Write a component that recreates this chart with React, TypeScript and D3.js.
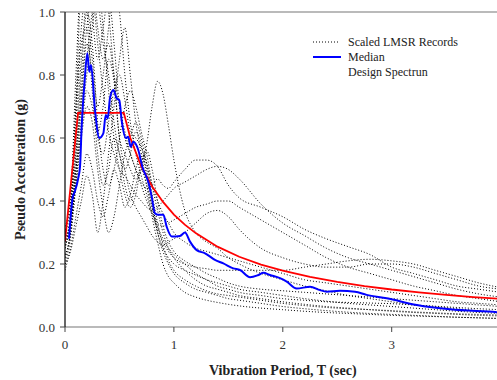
import * as d3 from 'd3';

// periods (sec) shared by the scaled records
const recordT = [0, 0.05, 0.1, 0.15, 0.2, 0.25, 0.3, 0.35, 0.4, 0.45, 0.5, 0.55, 0.6, 0.65, 0.7, 0.75, 0.8, 0.85, 0.9, 0.95, 1.0, 1.1, 1.2, 1.3, 1.4, 1.5, 1.6, 1.8, 2.0, 2.2, 2.4, 2.6, 2.8, 3.0, 3.2, 3.4, 3.6, 3.8, 4.0];

const rec1 = [0.25, 0.35, 0.55, 0.72, 0.9, 0.8, 0.62, 0.7, 0.85, 0.78, 0.6, 0.55, 0.5, 0.47, 0.5, 0.58, 0.7, 0.78, 0.74, 0.64, 0.53, 0.37, 0.3, 0.27, 0.25, 0.22, 0.2, 0.17, 0.15, 0.13, 0.115, 0.1, 0.09, 0.08, 0.07, 0.065, 0.058, 0.052, 0.048];
const rec2 = [0.3, 0.38, 0.6, 0.85, 1.05, 1.1, 0.95, 0.85, 0.9, 0.8, 0.7, 0.62, 0.55, 0.5, 0.46, 0.44, 0.45, 0.47, 0.45, 0.44, 0.46, 0.5, 0.53, 0.53, 0.51, 0.45, 0.41, 0.38, 0.35, 0.31, 0.28, 0.255, 0.23, 0.19, 0.17, 0.15, 0.13, 0.12, 0.11];
const rec3 = [0.22, 0.3, 0.5, 0.75, 0.95, 1.05, 0.9, 0.75, 0.62, 0.55, 0.5, 0.48, 0.45, 0.42, 0.4, 0.38, 0.37, 0.38, 0.4, 0.42, 0.44, 0.46, 0.48, 0.5, 0.51, 0.5, 0.47, 0.39, 0.33, 0.29, 0.25, 0.22, 0.2, 0.18, 0.16, 0.14, 0.12, 0.105, 0.095];
const rec4 = [0.28, 0.35, 0.7, 1.1, 1.2, 1.0, 0.85, 0.95, 1.05, 0.9, 0.7, 0.6, 0.55, 0.5, 0.45, 0.4, 0.36, 0.33, 0.32, 0.33, 0.34, 0.36, 0.38, 0.39, 0.4, 0.4, 0.38, 0.34, 0.3, 0.26, 0.22, 0.19, 0.17, 0.15, 0.13, 0.115, 0.1, 0.09, 0.08];
const rec5 = [0.2, 0.28, 0.45, 0.65, 0.8, 0.95, 1.1, 1.15, 1.0, 0.8, 0.6, 0.5, 0.42, 0.38, 0.35, 0.32, 0.29, 0.27, 0.26, 0.27, 0.28, 0.3, 0.33, 0.36, 0.37, 0.35, 0.31, 0.25, 0.22, 0.2, 0.19, 0.19, 0.2, 0.2, 0.19, 0.17, 0.15, 0.13, 0.12];
const rec6 = [0.32, 0.4, 0.8, 1.1, 1.0, 0.85, 0.7, 0.8, 0.95, 1.1, 1.0, 0.8, 0.65, 0.55, 0.48, 0.42, 0.36, 0.31, 0.27, 0.24, 0.22, 0.2, 0.19, 0.185, 0.18, 0.18, 0.18, 0.18, 0.18, 0.19, 0.2, 0.21, 0.215, 0.21, 0.2, 0.18, 0.16, 0.14, 0.125];
const rec7 = [0.26, 0.32, 0.5, 0.62, 0.75, 0.7, 0.6, 0.55, 0.65, 0.75, 0.8, 0.72, 0.62, 0.6, 0.57, 0.52, 0.45, 0.4, 0.36, 0.33, 0.3, 0.27, 0.25, 0.24, 0.23, 0.22, 0.21, 0.19, 0.17, 0.15, 0.14, 0.13, 0.12, 0.11, 0.1, 0.09, 0.08, 0.075, 0.07];
const rec8 = [0.18, 0.25, 0.35, 0.45, 0.55, 0.5, 0.4, 0.35, 0.42, 0.5, 0.45, 0.38, 0.42, 0.5, 0.55, 0.5, 0.4, 0.3, 0.24, 0.2, 0.17, 0.14, 0.12, 0.11, 0.1, 0.09, 0.085, 0.075, 0.065, 0.058, 0.052, 0.047, 0.043, 0.04, 0.037, 0.034, 0.031, 0.029, 0.027];
const rec9 = [0.23, 0.3, 0.55, 0.8, 1.0, 0.9, 0.65, 0.5, 0.45, 0.5, 0.6, 0.7, 0.75, 0.7, 0.62, 0.55, 0.45, 0.37, 0.3, 0.25, 0.22, 0.18, 0.15, 0.13, 0.12, 0.11, 0.1, 0.09, 0.08, 0.072, 0.065, 0.06, 0.055, 0.05, 0.046, 0.043, 0.04, 0.037, 0.035];
const rec10 = [0.27, 0.33, 0.45, 0.6, 0.7, 0.65, 0.5, 0.38, 0.3, 0.35, 0.45, 0.55, 0.6, 0.65, 0.6, 0.52, 0.42, 0.33, 0.26, 0.21, 0.18, 0.15, 0.13, 0.115, 0.105, 0.1, 0.095, 0.085, 0.075, 0.068, 0.062, 0.058, 0.055, 0.052, 0.048, 0.045, 0.042, 0.04, 0.038];
const rec11 = [0.3, 0.42, 0.7, 0.95, 1.1, 1.15, 1.05, 0.9, 0.8, 0.65, 0.55, 0.5, 0.55, 0.62, 0.58, 0.48, 0.38, 0.3, 0.25, 0.22, 0.2, 0.18, 0.165, 0.15, 0.14, 0.13, 0.12, 0.11, 0.1, 0.09, 0.082, 0.075, 0.07, 0.065, 0.06, 0.055, 0.05, 0.046, 0.043];
const rec12 = [0.2, 0.24, 0.32, 0.4, 0.48, 0.42, 0.3, 0.4, 0.55, 0.7, 0.85, 0.95, 0.8, 0.65, 0.55, 0.45, 0.35, 0.27, 0.2, 0.16, 0.14, 0.11, 0.095, 0.085, 0.078, 0.072, 0.067, 0.06, 0.055, 0.05, 0.046, 0.043, 0.04, 0.037, 0.035, 0.033, 0.031, 0.029, 0.027];
const rec13 = [0.25, 0.36, 0.65, 0.9, 0.95, 0.75, 0.55, 0.45, 0.5, 0.6, 0.55, 0.45, 0.4, 0.45, 0.52, 0.56, 0.5, 0.4, 0.32, 0.27, 0.24, 0.21, 0.19, 0.17, 0.155, 0.14, 0.13, 0.12, 0.115, 0.11, 0.105, 0.1, 0.095, 0.09, 0.085, 0.08, 0.075, 0.07, 0.065];
const rec14 = [0.22, 0.3, 0.48, 0.7, 0.85, 1.0, 1.1, 0.95, 0.75, 0.6, 0.5, 0.42, 0.38, 0.42, 0.5, 0.45, 0.38, 0.32, 0.28, 0.25, 0.23, 0.2, 0.17, 0.15, 0.13, 0.12, 0.11, 0.1, 0.09, 0.085, 0.08, 0.078, 0.076, 0.074, 0.07, 0.066, 0.062, 0.058, 0.055];

const records = [rec1, rec2, rec3, rec4, rec5, rec6, rec7, rec8, rec9, rec10, rec11, rec12, rec13, rec14];

const medianT = [0.037, 0.07, 0.09, 0.12, 0.138, 0.153, 0.18, 0.205, 0.223, 0.239, 0.275, 0.315, 0.352, 0.374, 0.392, 0.413, 0.444, 0.475, 0.499, 0.52, 0.56, 0.58, 0.603, 0.627, 0.673, 0.71, 0.765, 0.796, 0.826, 0.857, 0.903, 0.934, 0.98, 1.056, 1.102, 1.148, 1.209, 1.286, 1.377, 1.454, 1.545, 1.607, 1.699, 1.775, 1.821, 1.882, 1.974, 2.036, 2.127, 2.25, 2.342, 2.403, 2.525, 2.663, 2.77, 2.954, 3.23, 3.535, 3.964, 4.0];
const medianSa = [0.28, 0.41, 0.43, 0.47, 0.51, 0.636, 0.78, 0.869, 0.81, 0.832, 0.69, 0.6, 0.615, 0.673, 0.662, 0.726, 0.752, 0.726, 0.72, 0.657, 0.6, 0.604, 0.572, 0.588, 0.562, 0.509, 0.46, 0.414, 0.361, 0.356, 0.356, 0.318, 0.287, 0.289, 0.3, 0.271, 0.244, 0.234, 0.213, 0.202, 0.186, 0.181, 0.158, 0.165, 0.172, 0.165, 0.155, 0.144, 0.122, 0.128, 0.117, 0.112, 0.115, 0.112, 0.102, 0.091, 0.07, 0.056, 0.047, 0.046];

const designT = [0, 0.12, 0.54, 0.6, 0.7, 0.8, 0.9, 1.0, 1.1, 1.2, 1.4, 1.6, 1.8, 2.0, 2.25, 2.5, 2.75, 3.0, 3.25, 3.5, 3.75, 4.0];
const designSa = [0.272, 0.68, 0.68, 0.6, 0.51, 0.446, 0.397, 0.357, 0.325, 0.298, 0.255, 0.223, 0.198, 0.179, 0.159, 0.143, 0.13, 0.119, 0.11, 0.102, 0.095, 0.089];

const xTicks = [0, 1, 2, 3];
const yTicks = [0, 0.2, 0.4, 0.6, 0.8, 1.0];
const legendLabels = ['Scaled LMSR Records', 'Median', 'Design Spectrun'];

const W = 497;
const H = 380;
const m = { left: 65, top: 12, right: 500.6, bottom: 327 };
const font = 'Liberation Serif';

export default function App() {
  const x = d3.scaleLinear().domain([0, 4]).range([m.left, m.right]);
  const y = d3.scaleLinear().domain([0, 1]).range([m.bottom, m.top]);

  const line = d3
    .line<[number, number]>()
    .x((d) => x(d[0]))
    .y((d) => y(d[1]));
  const smooth = line.curve(d3.curveMonotoneX);
  const recLine = (vals: number[]) => smooth(vals.map((v, i) => [recordT[i], v] as [number, number]));
  const medPath = d3
    .line<[number, number]>()
    .x((d) => x(d[0]))
    .y((d) => y(d[1]))
    .curve(d3.curveMonotoneX)(medianSa.map((v, i) => [medianT[i], v] as [number, number]));
  const designPath = d3
    .line<[number, number]>()
    .x((d) => x(d[0]))
    .y((d) => y(d[1]))(designSa.map((v, i) => [designT[i], v] as [number, number]));

  const lx = 313;
  const ly = 42;

  return (
    <svg width={W} height={H} style={{ position: 'absolute', left: 0, top: 0, fontFamily: font }}>
      <defs>
        <clipPath id="plot">
          <rect x={m.left} y={m.top} width={m.right - m.left} height={m.bottom - m.top} />
        </clipPath>
      </defs>
      <g clipPath="url(#plot)">
        {records.map((r, i) => (
          <path key={i} d={recLine(r) ?? ''} fill="none" stroke="#000" strokeWidth={1} strokeDasharray="1,2" />
        ))}
        <path d={designPath ?? ''} fill="none" stroke="#ff0000" strokeWidth={1.8} />
        <path d={medPath ?? ''} fill="none" stroke="#0000ff" strokeWidth={2} />
      </g>

      {/* frame */}
      <line x1={m.left} x2={W} y1={m.top} y2={m.top} stroke="#777" strokeWidth={1.2} />
      <line x1={m.left} x2={W} y1={m.bottom} y2={m.bottom} stroke="#777" strokeWidth={1.2} />
      <line x1={m.left} x2={m.left} y1={m.top} y2={m.bottom} stroke="#000" strokeWidth={1.2} />

      {/* y axis */}
      {yTicks.map((t) => (
        <g key={t}>
          <line x1={m.left - 5} x2={m.left} y1={y(t)} y2={y(t)} stroke="#444" />
          <text x={m.left - 10} y={y(t)} dy="0.35em" textAnchor="end" fontSize={13} fill="#333" style={{ fontFamily: font }}>
            {t.toFixed(1)}
          </text>
        </g>
      ))}
      {/* x axis */}
      {xTicks.map((t) => (
        <g key={t}>
          <line x1={x(t)} x2={x(t)} y1={m.bottom} y2={m.bottom + 5} stroke="#444" />
          <text x={x(t)} y={m.bottom + 22} textAnchor="middle" fontSize={13} fill="#333" style={{ fontFamily: font }}>
            {t}
          </text>
        </g>
      ))}

      <text
        x={(m.left + m.right) / 2}
        y={375}
        textAnchor="middle"
        fontSize={14}
        fontWeight="bold"
        fill="#222"
        style={{ fontFamily: font }}
      >
        Vibration Period, T (sec)
      </text>
      <text
        transform={`translate(25,${(m.top + m.bottom) / 2}) rotate(-90)`}
        textAnchor="middle"
        fontSize={14}
        fontWeight="bold"
        fill="#222"
        style={{ fontFamily: font }}
      >
        Pseudo Acceleration (g)
      </text>

      {/* legend */}
      <line x1={lx} x2={lx + 27} y1={ly} y2={ly} stroke="#000" strokeDasharray="1,2" />
      <line x1={lx} x2={lx + 28} y1={ly + 15} y2={ly + 15} stroke="#0000ff" strokeWidth={2} />
      {legendLabels.map((l, i) => (
        <text key={l} x={lx + 35} y={ly + i * 15} dy="0.35em" fontSize={12} fill="#222" style={{ fontFamily: font }}>
          {l}
        </text>
      ))}
    </svg>
  );
}
